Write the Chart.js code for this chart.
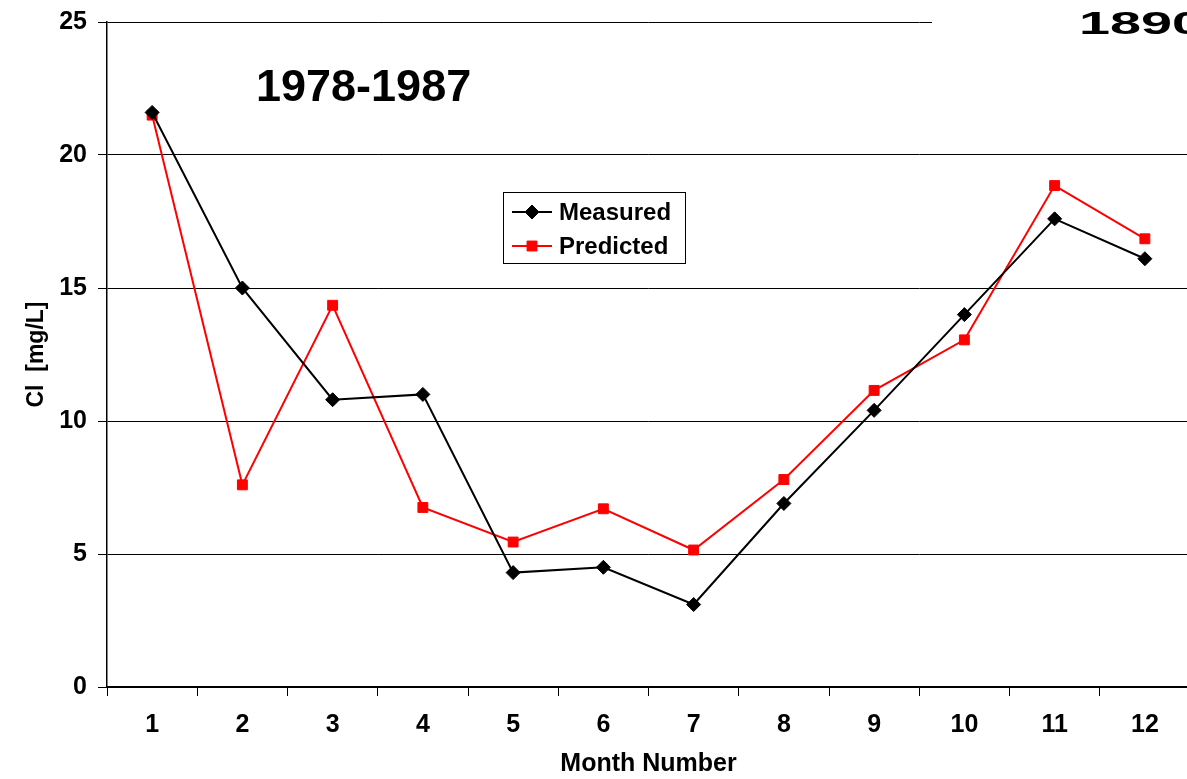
<!DOCTYPE html>
<html>
<head>
<meta charset="utf-8">
<script src="https://cdn.jsdelivr.net/npm/chart.js@4.4.0/dist/chart.umd.min.js"></script>
<style>
	html, body { margin: 0; padding: 0; background: #fff; overflow: hidden; }
	#wrap { width: 1200px; height: 779px; }
</style>
</head>
<body>
<div id="wrap"><canvas id="chart" width="1200" height="779"></canvas></div>
<script>
const months = ["1", "2", "3", "4", "5", "6", "7", "8", "9", "10", "11", "12"];
const measured = [21.6, 15.0, 10.8, 11.0, 4.3, 4.5, 3.1, 6.9, 10.4, 14.0, 17.6, 16.1];
const predicted = [21.5, 7.6, 14.35, 6.75, 5.45, 6.7, 5.15, 7.8, 11.15, 13.05, 18.85, 16.85];
const yTicks = [0, 5, 10, 15, 20, 25];
const periodLabel = "1978-1987";
const cornerLabel = "1890";

const FONT = "'Liberation Sans', Arial, sans-serif";

// draws the in-plot texts and the boxed legend
const overlayPlugin = {
	id: "overlay",
	afterDraw(chart) {
		const ctx = chart.ctx;
		ctx.save();

		// white patch behind the cut-off label at the top right
		ctx.fillStyle = "#fff";
		ctx.fillRect(932, 0, 300, 50);
		ctx.fillStyle = "#000";
		ctx.font = "bold 31px " + FONT;
		ctx.textBaseline = "alphabetic";
		ctx.save();
		ctx.translate(1079, 34);
		ctx.scale(1.8, 1);
		ctx.fillText(cornerLabel, 0, 0);
		ctx.restore();

		ctx.font = "bold 45px " + FONT;
		ctx.fillText(periodLabel, 256, 101);

		// legend
		const lx = 503, ly = 192, lw = 182, lh = 71;
		ctx.fillStyle = "#fff";
		ctx.fillRect(lx, ly, lw, lh);
		ctx.strokeStyle = "#000";
		ctx.lineWidth = 1;
		ctx.strokeRect(lx + 0.5, ly + 0.5, lw, lh);
		ctx.font = "bold 24px " + FONT;
		ctx.textBaseline = "middle";
		chart.data.datasets.forEach((ds, i) => {
			const y = ly + 20 + i * 34;
			ctx.strokeStyle = ds.borderColor;
			ctx.lineWidth = 2;
			ctx.beginPath();
			ctx.moveTo(lx + 9, y);
			ctx.lineTo(lx + 49, y);
			ctx.stroke();
			ctx.fillStyle = ds.pointBackgroundColor;
			ctx.strokeStyle = ds.pointBorderColor;
			ctx.lineWidth = 1;
			Chart.helpers.drawPoint(ctx, {
				pointStyle: ds.pointStyle,
				radius: ds.pointRadius,
				borderWidth: 1,
			}, lx + 29, y);
			ctx.fillStyle = "#000";
			ctx.fillText(ds.label, lx + 56, y + 1);
		});
		ctx.restore();
	},
};

const ctx = document.getElementById("chart").getContext("2d");

new Chart(ctx, {
	type: "line",
	data: {
		labels: months,
		datasets: [
			{
				label: "Measured",
				data: measured,
				borderColor: "#000",
				backgroundColor: "#000",
				pointBackgroundColor: "#000",
				pointBorderColor: "#000",
				pointStyle: "rectRot",
				pointRadius: 7,
				pointBorderWidth: 1,
				borderWidth: 2,
				tension: 0,
			},
			{
				label: "Predicted",
				data: predicted,
				borderColor: "#ff0000",
				backgroundColor: "#ff0000",
				pointBackgroundColor: "#ff0000",
				pointBorderColor: "#ff0000",
				pointStyle: "rect",
				pointRadius: 7,
				pointBorderWidth: 1,
				borderWidth: 2,
				tension: 0,
			},
		],
	},
	options: {
		responsive: false,
		animation: false,
		layout: {
			padding: { top: 22, right: 10, left: 0, bottom: 0 },
		},
		scales: {
			x: {
				type: "category",
				offset: true,
				grid: {
					offset: true,
					drawOnChartArea: false,
					color: "#000",
					tickLength: 9,
				},
				border: { display: true, color: "#000", width: 1.5 },
				ticks: {
					color: "#000",
					padding: 14,
					maxRotation: 0,
					font: { family: FONT, size: 25, weight: "bold" },
				},
				title: {
					display: true,
					text: "Month Number",
					color: "#000",
					padding: { top: 0, bottom: 0 },
					font: { family: FONT, size: 25, weight: "bold" },
				},
				afterFit(scale) {
					scale.height = 92;
					scale.paddingLeft = 0;
					scale.paddingRight = 0;
				},
			},
			y: {
				min: 0,
				max: 25,
				afterBuildTicks(scale) {
					scale.ticks = yTicks.map((v) => ({ value: v }));
				},
				grid: {
					color: "#000",
					lineWidth: 1,
					tickLength: 9,
				},
				border: { display: true, color: "#000", width: 1.5 },
				ticks: {
					color: "#000",
					padding: 11,
					font: { family: FONT, size: 25, weight: "bold" },
				},
				title: {
					display: true,
					text: "Cl  [mg/L]",
					color: "#000",
					padding: { top: 23, bottom: 0 },
					font: { family: FONT, size: 23, weight: "bold" },
				},
				afterFit(scale) {
					scale.width = 107;
					scale.paddingTop = 0;
					scale.paddingBottom = 0;
				},
			},
		},
		plugins: {
			legend: { display: false },
			tooltip: { enabled: false },
		},
	},
	plugins: [overlayPlugin],
});
</script>
</body>
</html>
